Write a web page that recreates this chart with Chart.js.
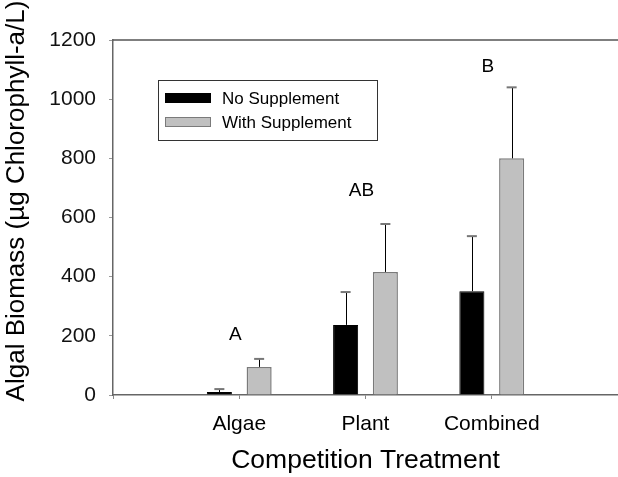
<!DOCTYPE html>
<html>
<head>
<meta charset="utf-8">
<script src="https://cdn.jsdelivr.net/npm/chart.js@4"></script>
<style>
  html, body { margin: 0; padding: 0; background: #fff; }
  #wrap { width: 618px; height: 477px; }
</style>
</head>
<body>
<div id="wrap"><canvas id="biomassChart"></canvas></div>
<script>
// data
const categories = ["Algae", "Plant", "Combined"];
const noSupplement = [10, 237, 351];
const noSupplementErr = [10, 111, 186];
const withSupplement = [95, 416, 800];
const withSupplementErr = [27, 162, 240];
const sigLetters = ["A", "AB", "B"];
const sigLetterY = [205, 690, 1110];
const yTicks = [0, 200, 400, 600, 800, 1000, 1200];

const FONT = "'Liberation Sans', Arial, sans-serif";

// empty slots at both ends so the groups sit on the inner ticks
const labels = ["", ...categories, ""];
const pad = arr => [null, ...arr, null];

const errors = [noSupplementErr, withSupplementErr];

const errorBarPlugin = {
    id: "errorBars",
    afterDatasetsDraw(chart) {
        const ctx = chart.ctx;
        const y = chart.scales.y;
        chart.data.datasets.forEach((ds, di) => {
            const meta = chart.getDatasetMeta(di);
            meta.data.forEach((bar, i) => {
                const v = ds.data[i];
                if (v === null) return;
                const top = y.getPixelForValue(v + errors[di][i - 1]);
                ctx.save();
                ctx.strokeStyle = "#000";
                ctx.lineWidth = 1;
                ctx.beginPath();
                ctx.moveTo(Math.round(bar.x) + 0.5, bar.y);
                ctx.lineTo(Math.round(bar.x) + 0.5, top);
                ctx.stroke();
                ctx.strokeStyle = "#777";
                ctx.lineWidth = 2;
                ctx.beginPath();
                ctx.moveTo(bar.x - 5, top);
                ctx.lineTo(bar.x + 5, top);
                ctx.stroke();
                ctx.restore();
            });
        });
    }
};

const extrasPlugin = {
    id: "extras",
    afterDraw(chart) {
        const ctx = chart.ctx;
        const area = chart.chartArea;
        const x = chart.scales.x;
        const y = chart.scales.y;
        ctx.save();

        // top frame line
        ctx.strokeStyle = "#555";
        ctx.lineWidth = 1.5;
        ctx.beginPath();
        ctx.moveTo(area.left, area.top);
        ctx.lineTo(chart.width, area.top);
        ctx.stroke();

        // significance letters
        ctx.fillStyle = "#000";
        ctx.font = "19px " + FONT;
        ctx.textAlign = "center";
        ctx.textBaseline = "middle";
        sigLetters.forEach((s, i) => {
            ctx.fillText(s, x.getPixelForValue(i + 1) - 4, y.getPixelForValue(sigLetterY[i]));
        });

        // y axis title
        ctx.save();
        ctx.translate(17, 201);
        ctx.rotate(-Math.PI / 2);
        ctx.font = "26px " + FONT;
        ctx.fillText("Algal Biomass (\u00b5g Chlorophyll-a/L)", 0, 0);
        ctx.restore();

        // legend box
        ctx.fillStyle = "#fff";
        ctx.fillRect(158, 80, 219, 60);
        ctx.strokeStyle = "#333";
        ctx.lineWidth = 1;
        ctx.strokeRect(158.5, 80.5, 219, 60);
        chart.data.datasets.forEach((ds, i) => {
            const ry = 98 + i * 24;
            ctx.fillStyle = ds.backgroundColor;
            ctx.fillRect(165, ry - 5, 46, 10);
            ctx.strokeStyle = ds.borderColor;
            ctx.strokeRect(165.5, ry - 4.5, 45, 9);
            ctx.fillStyle = "#000";
            ctx.font = "17px " + FONT;
            ctx.textAlign = "left";
            ctx.fillText(ds.label, 222, ry + 1);
        });
        ctx.restore();
    }
};

new Chart(document.getElementById("biomassChart"), {
    type: "bar",
    data: {
        labels: labels,
        datasets: [
            {
                label: "No Supplement",
                data: pad(noSupplement),
                backgroundColor: "#000000",
                borderColor: "#000000",
                borderWidth: 1
            },
            {
                label: "With Supplement",
                data: pad(withSupplement),
                backgroundColor: "#c0c0c0",
                borderColor: "#7a7a7a",
                borderWidth: 1.5
            }
        ]
    },
    options: {
        responsive: true,
        maintainAspectRatio: false,
        animation: false,
        categoryPercentage: 0.63,
        barPercentage: 0.63,
        layout: { padding: { top: 40, right: 0, left: 0, bottom: 0 } },
        plugins: {
            legend: { display: false },
            tooltip: { enabled: false }
        },
        scales: {
            x: {
                offset: false,
                grid: {
                    offset: false,
                    drawOnChartArea: false,
                    tickLength: 4,
                    color: "#888"
                },
                border: { color: "#666", width: 1.5 },
                ticks: {
                    color: "#000",
                    padding: 13,
                    maxRotation: 0,
                    font: { family: FONT, size: 21 }
                },
                title: {
                    display: true,
                    text: "Competition Treatment",
                    color: "#000",
                    padding: { top: 0, bottom: 0 },
                    font: { family: FONT, size: 26.5 }
                },
                afterFit(scale) {
                    scale.height = 82;
                    scale.paddingLeft = 0;
                    scale.paddingRight = 0;
                }
            },
            y: {
                min: 0,
                max: 1200,
                afterBuildTicks(scale) { scale.ticks = yTicks.map(v => ({ value: v })); },
                grid: {
                    drawOnChartArea: false,
                    tickLength: 4,
                    color: "#999"
                },
                border: { color: "#666", width: 1.5 },
                ticks: {
                    color: "#111",
                    padding: 13,
                    callback: v => String(v),
                    font: { family: FONT, size: 21 }
                },
                afterFit(scale) { scale.width = 113; }
            }
        }
    },
    plugins: [errorBarPlugin, extrasPlugin]
});
</script>
</body>
</html>
